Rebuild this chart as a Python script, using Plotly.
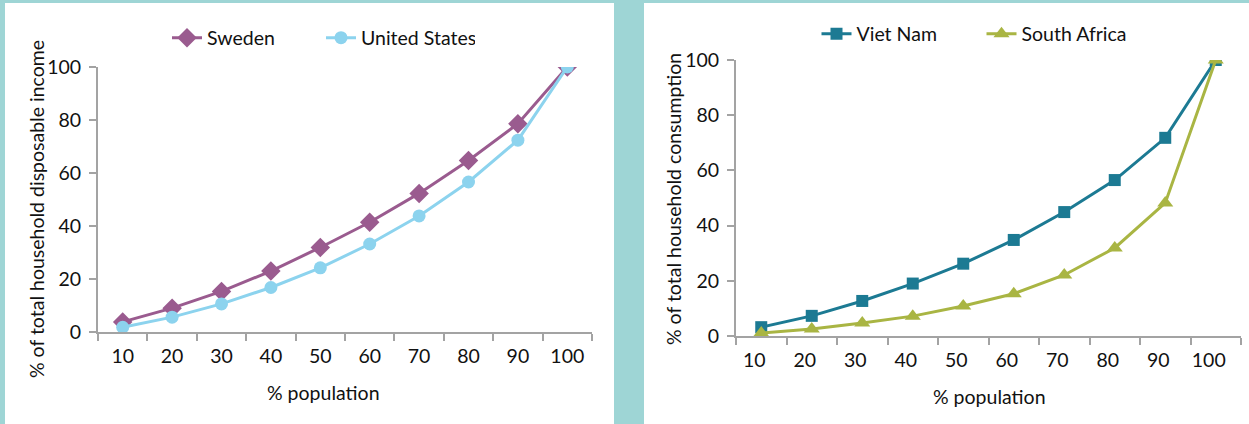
import plotly.graph_objects as go

# ---- data ----
categories = ["10", "20", "30", "40", "50", "60", "70", "80", "90", "100"]
sweden = [3.8, 9.0, 15.3, 23.0, 31.9, 41.4, 52.3, 64.7, 78.6, 100.0]
united_states = [1.8, 5.6, 10.6, 16.8, 24.2, 33.2, 43.8, 56.6, 72.4, 100.0]
viet_nam = [3.2, 7.3, 12.7, 19.0, 26.2, 34.8, 44.9, 56.5, 71.8, 100.0]
south_africa = [1.1, 2.5, 4.7, 7.2, 10.9, 15.3, 22.1, 31.9, 48.2, 100.0]
y_ticks = [0, 20, 40, 60, 80, 100]

W, H = 1249, 424
FONT = "Lato"
FS = 19.5
AXIS_COL = "#A3A3A3"
TEAL_BG = "#9ED5D5"

def px(x):
    return x / W

def py(y):
    return 1 - y / H

fig = go.Figure()

fig.add_trace(go.Scatter(x=categories, y=sweden, name="Sweden", mode="lines+markers",
                         line=dict(color="#9A5B8F", width=3),
                         marker=dict(symbol="diamond", size=15, color="#9A5B8F"),
                         xaxis="x", yaxis="y", legend="legend"))
fig.add_trace(go.Scatter(x=categories, y=united_states, name="United States", mode="lines+markers",
                         line=dict(color="#8CD3EE", width=3),
                         marker=dict(symbol="circle", size=13, color="#8CD3EE"),
                         xaxis="x", yaxis="y", legend="legend"))
fig.add_trace(go.Scatter(x=categories, y=viet_nam, name="Viet Nam", mode="lines+markers",
                         line=dict(color="#1C7A93", width=3),
                         marker=dict(symbol="square", size=12, color="#1C7A93"),
                         xaxis="x2", yaxis="y2", legend="legend2"))
fig.add_trace(go.Scatter(x=categories, y=south_africa, name="South Africa", mode="lines+markers",
                         line=dict(color="#A9B543", width=3),
                         marker=dict(symbol="triangle-up", size=14, color="#A9B543"),
                         xaxis="x2", yaxis="y2", legend="legend2"))

tfont = dict(family=FONT, size=FS, color="#111")

xcommon = dict(type="category", showline=True, linecolor=AXIS_COL, linewidth=2,
               ticks="outside", tickson="boundaries", ticklen=7, tickwidth=2,
               tickcolor=AXIS_COL, showgrid=False, zeroline=False, automargin=False,
               tickfont=tfont, range=[-0.5, 9.5], fixedrange=True, ticklabelstandoff=6)
ycommon = dict(showline=True, linecolor=AXIS_COL, linewidth=2, ticks="outside",
               ticklen=7, tickwidth=2, tickcolor=AXIS_COL, showgrid=False,
               zeroline=False, range=[0, 100], tickvals=y_ticks, automargin=False,
               tickfont=tfont, ticklabelstandoff=4, fixedrange=True)

def ann(text, x, y, angle=0):
    return dict(text=text, xref="paper", yref="paper", x=px(x), y=py(y),
                xanchor="center", yanchor="middle", textangle=angle,
                showarrow=False, font=tfont)

fig.update_layout(
    width=W, height=H,
    margin=dict(l=0, r=0, t=0, b=0, pad=0),
    paper_bgcolor=TEAL_BG, plot_bgcolor="white",
    font=tfont,
    xaxis=dict(domain=[px(98), px(592)], anchor="y", **xcommon),
    yaxis=dict(domain=[py(332), py(67)], anchor="x", **ycommon),
    xaxis2=dict(domain=[px(736), px(1241)], anchor="y2", ticklabelshift=-7, **xcommon),
    yaxis2=dict(domain=[py(336), py(60)], anchor="x2", **ycommon),
    legend=dict(orientation="h", x=px(167), y=py(38), xanchor="left", yanchor="middle",
                bgcolor="rgba(0,0,0,0)", font=tfont, entrywidth=109),
    legend2=dict(orientation="h", x=px(816.5), y=py(34), xanchor="left", yanchor="middle",
                 bgcolor="rgba(0,0,0,0)", font=tfont, entrywidth=120),
    shapes=[
        dict(type="rect", xref="paper", yref="paper", x0=px(5), x1=px(614), y0=0, y1=py(3),
             fillcolor="white", line=dict(width=0), layer="below"),
        dict(type="rect", xref="paper", yref="paper", x0=px(644), x1=1, y0=0, y1=py(3),
             fillcolor="white", line=dict(width=0), layer="below"),
    ],
    annotations=[
        ann("% population", 324, 392),
        ann("% population", 989, 396),
        ann("% of total household disposable income", 36, 209, -90),
        ann("% of total household consumption", 673, 199, -90),
    ],
    showlegend=True,
)

fig.write_html("out.html", config={"displayModeBar": False},
               post_script="document.body.style.margin='0';")
